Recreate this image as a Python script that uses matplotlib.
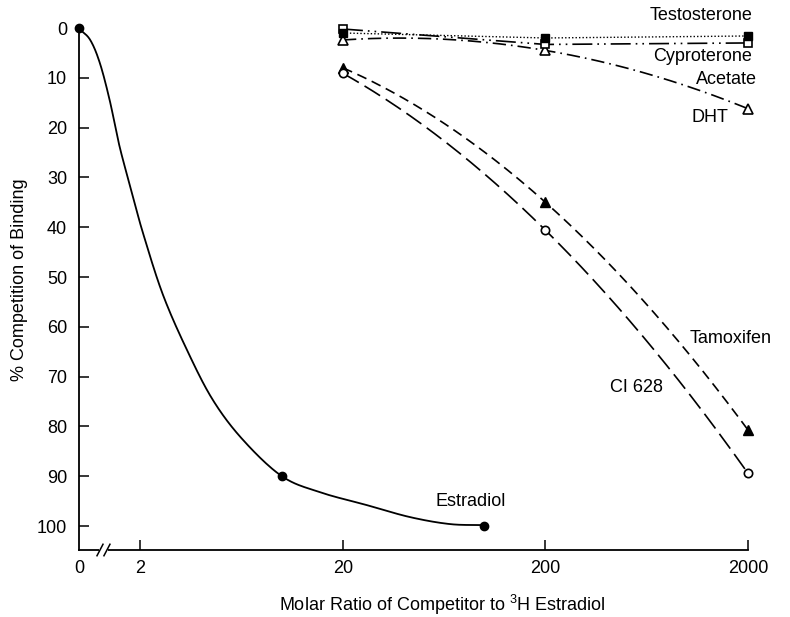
import numpy as np
import matplotlib
matplotlib.use("Agg")
import matplotlib.pyplot as plt
from matplotlib.patches import Rectangle
from matplotlib.lines import Line2D

plt.rcParams['font.family'] = ['Liberation Sans', 'DejaVu Sans']
plt.rcParams['mathtext.fontset'] = 'custom'
plt.rcParams['mathtext.rm'] = 'Liberation Sans'
plt.rcParams['mathtext.default'] = 'regular'

# ---------------- data ----------------
# x = molar ratio (0 is drawn at the broken-axis origin)
estradiol_x = [0, 10, 100]
estradiol_y = [0, 90, 100]
# traced smooth estradiol curve (x positions on broken log axis; 1 == origin "0")
estradiol_curve_x = [1, 1.13, 1.26, 1.41, 1.58, 1.84, 2.06, 2.58, 3.40, 4.56, 6.42,
                     10.0, 15.4, 26.3, 42.9, 67.6, 100]
estradiol_curve_y = [0.2, 2.4, 7.0, 14.5, 23.9, 33.9, 41.2, 53.5, 64.7, 74.7, 82.7,
                     90.0, 93.2, 95.8, 98.2, 99.6, 99.8]

ratio_x = [20, 200, 2000]
testosterone_y = [1.0, 2.0, 1.6]
cyproterone_y = [0.2, 3.3, 3.0]
dht_y = [2.4, 4.5, 16.2]
tamoxifen_y = [8.0, 35.0, 80.7]
ci628_y = [9.1, 40.6, 89.4]

xtick_vals = [1, 2, 20, 200, 2000]
xtick_labels = ['0', '2', '20', '200', '2000']
ytick_vals = list(range(0, 101, 10))

# ---------------- figure ----------------
fig = plt.figure(figsize=(7.9, 6.17), dpi=100)
ax = fig.add_axes([0.1006, 0.1086, 0.8462, 0.846])
ax.set_xscale('log')
ax.set_xlim(1, 2000)
ax.set_ylim(104.8, 0)

def pos(x):
    x = np.asarray(x, dtype=float)
    return np.where(x == 0, 1.0, x)

lw = 1.2
fs = 13

def smooth(xs, ys):
    t = np.log10(xs)
    c = np.polyfit(t, ys, 2)
    tt = np.linspace(t[0], t[-1], 200)
    return 10 ** tt, np.polyval(c, tt)

def catmull_rom(xs, ys, n=20):
    # smooth drawing path through the traced points (log-x space)
    P = np.column_stack([np.log10(pos(xs)), np.asarray(ys, float)])
    P = np.vstack([2 * P[0] - P[1], P, 2 * P[-1] - P[-2]])
    out = []
    t = np.linspace(0, 1, n, endpoint=False)[:, None]
    for i in range(1, len(P) - 2):
        p0, p1, p2, p3 = P[i - 1], P[i], P[i + 1], P[i + 2]
        seg = 0.5 * ((2 * p1) + (-p0 + p2) * t + (2 * p0 - 5 * p1 + 4 * p2 - p3) * t ** 2
                     + (-p0 + 3 * p1 - 3 * p2 + p3) * t ** 3)
        out.append(seg)
    out.append(P[-2][None, :])
    out = np.vstack(out)
    return 10 ** out[:, 0], out[:, 1]

# Estradiol
cx, cy = catmull_rom(estradiol_curve_x, estradiol_curve_y)
ax.plot(cx, cy, color='black', lw=1.3, solid_capstyle='round', clip_on=False)
ax.plot(pos(estradiol_x), estradiol_y, 'o', color='black', ms=6, clip_on=False)

# Testosterone (dotted, filled squares)
ax.plot(ratio_x, testosterone_y, color='black', lw=1.0, dashes=(1, 1.5), clip_on=False)
# Cyproterone acetate (long dash - dot - dot, open squares)
ax.plot(ratio_x, cyproterone_y, color='black', lw=lw, dashes=(12, 3, 1, 3, 1, 3), clip_on=False)
# DHT (dash-dot, open triangles)
xs, ys = smooth(ratio_x, dht_y)
ax.plot(xs, ys, color='black', lw=lw, dashes=(8, 3, 1, 3), clip_on=False)
# Tamoxifen (short dashes, filled triangles)
xs, ys = smooth(ratio_x, tamoxifen_y)
ax.plot(xs, ys, color='black', lw=lw, dashes=(6, 3.5), clip_on=False)
# CI 628 (long dashes, open circles)
xs, ys = smooth(ratio_x, ci628_y)
ax.plot(xs, ys, color='black', lw=lw, dashes=(11, 4), clip_on=False)

ax.plot(ratio_x, dht_y, '^', mfc='white', mec='black', mew=1.2, ms=7, ls='none', clip_on=False, zorder=5)
ax.plot(ratio_x, cyproterone_y, 's', mfc='white', mec='black', mew=1.2, ms=6, ls='none', clip_on=False, zorder=5)
ax.plot(ratio_x, testosterone_y, 's', color='black', ms=6, ls='none', clip_on=False, zorder=6)
ax.plot(ratio_x, tamoxifen_y, '^', color='black', ms=7, ls='none', clip_on=False, zorder=5)
ax.plot(ratio_x, ci628_y, 'o', mfc='white', mec='black', mew=1.2, ms=6, ls='none', clip_on=False, zorder=5)

# labels
ax.text(2094, -2.6, 'Testosterone', fontsize=fs, ha='right', va='center')
ax.text(2094, 5.8, 'Cyproterone', fontsize=fs, ha='right', va='center')
ax.text(2218, 10.3, 'Acetate', fontsize=fs, ha='right', va='center')
ax.text(1594, 17.9, 'DHT', fontsize=fs, ha='right', va='center')
ax.text(1035, 62.3, 'Tamoxifen', fontsize=fs, ha='left', va='center')
ax.text(417, 72.2, 'CI 628', fontsize=fs, ha='left', va='center')
ax.text(57, 95.1, 'Estradiol', fontsize=fs, ha='left', va='center')

# axes styling
for s in ['top', 'right']:
    ax.spines[s].set_visible(False)
for s in ['left', 'bottom']:
    ax.spines[s].set_linewidth(1.3)

ax.minorticks_off()
ax.set_xticks(xtick_vals)
ax.set_xticklabels(xtick_labels)
ax.xaxis.get_major_ticks()[0].tick1line.set_visible(False)
ax.set_yticks(ytick_vals)
ax.set_yticklabels([str(v) for v in ytick_vals])
ax.yaxis.get_major_ticks()[0].tick1line.set_visible(False)
ax.tick_params(axis='both', direction='in', length=7, width=1.1, labelsize=fs)
ax.tick_params(axis='x', pad=7)
ax.tick_params(axis='y', pad=9)

# axis break marks on x axis
ax.add_patch(Rectangle((0.029, -0.006), 0.014, 0.012, transform=ax.transAxes,
                       facecolor='white', edgecolor='none', clip_on=False, zorder=4))
for xc in (0.0307, 0.0411):
    ax.add_line(Line2D([xc - 0.0045, xc + 0.0045], [-0.011, 0.011], transform=ax.transAxes,
                       color='black', lw=1.1, clip_on=False, zorder=5))

fig.text(20 / 790, 1 - 280 / 617, '% Competition of Binding', rotation=90,
         fontsize=fs, ha='center', va='center')
fig.text(442 / 790, 1 - 605 / 617, 'Molar Ratio of Competitor to $^{3}$H Estradiol',
         fontsize=fs, ha='center', va='center')

fig.savefig('out.png', dpi=100)
